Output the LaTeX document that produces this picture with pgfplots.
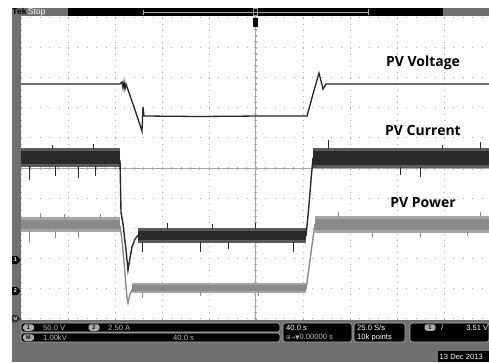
\documentclass[border=0pt]{standalone}
\usepackage{pgfplots}
\pgfplotsset{compat=1.18}
\usepackage{fontspec}
\setmainfont{Open Sans}
\newfontfamily\statfont{Liberation Sans}
\newfontfamily\symfont{DejaVu Sans}
\definecolor{scopegray}{HTML}{6F6F6F}
\definecolor{bandgray}{HTML}{8A8A8A}
\definecolor{bandgraylt}{HTML}{A6A6A6}
\definecolor{banddark}{HTML}{2A2A2A}
\definecolor{banddarklt}{HTML}{5A5A5A}
\definecolor{stattext}{HTML}{BDBDBD}
\definecolor{griddot}{HTML}{A8A8A8}
\begin{document}
\begin{tikzpicture}
\begin{scope}[x=1pt,y=-1pt]
\useasboundingbox (0,0) rectangle (489,362);
\fill[white] (0,0) rectangle (489,362);
% scope frame
\fill[scopegray] (12,8) rectangle (21,362);
\fill[scopegray] (12,320) rectangle (489,362);
% top bar
\fill[scopegray] (12,8) rectangle (68,16);
\fill[black] (68,8) rectangle (443,16);
\fill[scopegray] (443,8) rectangle (489,16);
\draw[gray!70, line width=0.5pt] (143,9.5) -- (143,14.5);
\draw[gray!70, line width=0.5pt] (368,9) -- (368,15);
\draw[gray!70, line width=0.5pt] (143,12) -- (368,12);
\draw[gray!80, line width=0.6pt] (253.5,8.5) rectangle (257,15.5);
\node[anchor=west, inner sep=0pt, font=\statfont\fontsize{8.5}{9}\selectfont\bfseries] at (12.3,12) {Tek\,\textcolor{white}{\mdseries Stop}};
% grid
\foreach \i in {0,...,10}
  \draw[griddot, line width=0.9pt, dash pattern=on 0.9pt off 5.12pt] ({21+47*\i},17.5) -- ({21+47*\i},320);
\foreach \j in {0,...,10}
  \draw[griddot, line width=0.9pt, dash pattern=on 0.9pt off 8.5pt] (21,{17.5+30.1*\j}) -- (489,{17.5+30.1*\j});
% centre lines with ticks
\draw[gray!70, line width=0.5pt] (21,168) -- (489,168);
\foreach \k in {0,...,50}
  \draw[gray!70, line width=0.5pt] ({21+9.4*\k},166.5) -- ({21+9.4*\k},169.5);
\draw[gray!70, line width=0.5pt] (255.5,16) -- (255.5,320);
\foreach \k in {0,...,50}
  \draw[gray!70, line width=0.5pt] (254,{17.5+6.02*\k}) -- (257,{17.5+6.02*\k});
% trigger marker
\fill[black] (253.2,18) rectangle (258,26.5);
% channel markers
\fill[black] (12,256) -- (17,256) -- (20.5,260) -- (17,264) -- (12,264) -- cycle;
\node[white, inner sep=0pt, font=\statfont\fontsize{5.5}{6}\selectfont\bfseries] at (15.5,260) {1};
\fill[black] (12,287) -- (17,287) -- (20.5,291) -- (17,295) -- (12,295) -- cycle;
\node[white, inner sep=0pt, font=\statfont\fontsize{5.5}{6}\selectfont\bfseries] at (15.5,291) {2};
\fill[black!80] (12,315) -- (17,315) -- (20.5,319) -- (17,322) -- (12,322) -- cycle;
\node[gray!40, inner sep=0pt, font=\statfont\fontsize{4.5}{5}\selectfont\bfseries] at (15.5,318.5) {M};
% status panels
\begin{scope}[line width=0.6pt]
\draw[gray!55, fill=black, rounded corners=2.5pt] (21,323) rectangle (280,332);
\draw[gray!55, fill=black, rounded corners=2.5pt] (21,333) rectangle (280,342);
\draw[gray!55, fill=black, rounded corners=2.5pt] (283,323) rectangle (352,342);
\draw[gray!55, fill=black, rounded corners=2.5pt] (354,323) rectangle (405,342);
\draw[gray!55, fill=black, rounded corners=2.5pt] (410,323) rectangle (489,342);
\end{scope}
\fill[black] (438,351) rectangle (489,362);
\tikzset{badge/.style={fill=gray!65, rounded corners=2.5pt, inner sep=0pt, minimum width=11pt, minimum height=6.5pt, font=\statfont\fontsize{5.5}{6}\selectfont\bfseries, text=black},
 stat/.style={anchor=west, inner sep=0pt, text=stattext, font=\statfont\fontsize{7.6}{8}\selectfont}}
\node[badge] at (28.5,327.5) {1};
\node[stat] at (43,327.5) {50.0 V};
\node[badge] at (94,327.5) {2};
\node[stat] at (108,327.5) {2.50 A};
\node[badge] at (28.5,337.5) {M};
\node[stat] at (43,337.5) {1.00kV};
\node[stat] at (173,337.5) {40.0 s};
\node[stat, text=white] at (286,327.5) {40.0 s};
\node[stat] at (286,337.5) {{\symfont\fontsize{5.5}{6}\selectfont ⊞→▼}0.00000 s};
\node[stat, text=white] at (357,327.5) {25.0 S/s};
\node[stat, text=white] at (357,337.5) {10k points};
\node[badge] at (430,327.5) {1};
\node[stat, text=white] at (441,327.5) {/};
\node[stat, text=white, anchor=east] at (488.5,327.5) {3.51 V};
\node[anchor=west, inner sep=0pt, text=white, font=\statfont\fontsize{7.6}{8}\selectfont] at (439.5,356.5) {13 Dec 2013};
\end{scope}
\begin{axis}[at={(21pt,-320pt)}, anchor=south west, scale only axis,
  width=468pt, height=304pt, xmin=21, xmax=489, ymin=16, ymax=320,
  y dir=reverse, hide axis, clip=true, unbounded coords=jump]
% ---- PV Power (grey band): outer envelope, dense core ----
\addplot[fill=bandgraylt, draw=none] coordinates {(21,217) (120,217) (120,232) (21,232)} -- cycle;
\addplot[fill=bandgray, draw=none] coordinates {(21,220) (120,220) (120,229) (21,229)} -- cycle;
\addplot[bandgray, line width=1.4pt] coordinates {(120,226) (122,240) (124,262) (127,298) (128,303) (130,294) (133,288)};
\addplot[fill=bandgraylt, draw=none] coordinates {(132,283) (306,283) (306,293) (132,293)} -- cycle;
\addplot[fill=bandgray, draw=none] coordinates {(132,285) (306,285) (306,291) (132,291)} -- cycle;
\addplot[bandgray, line width=1.4pt] coordinates {(306,289) (309,268) (312,245) (315,224)};
\addplot[fill=bandgraylt, draw=none] coordinates {(315,216) (489,216) (489,233) (315,233)} -- cycle;
\addplot[fill=bandgray, draw=none] coordinates {(315,219) (489,219) (489,230) (315,230)} -- cycle;
\addplot[bandgray, line width=0.7pt] coordinates {
 (29,231) (29,243) (29,nan) (55,231) (55,238) (55,nan) (78,231) (78,238) (78,nan)
 (40,218) (40,213) (40,nan) (100,218) (100,214) (100,nan) (64,218) (64,214) (64,nan)
 (142,292) (142,298) (142,nan) (200,292) (200,296) (200,nan) (258,292) (258,296) (258,nan)
 (338,217) (338,212) (338,nan) (420,232) (420,237) (420,nan) (467,232) (467,236) (467,nan) (480,217) (480,212) (480,nan) (372,232) (372,237)};
% ---- PV Current (dark band) ----
\addplot[fill=banddarklt, draw=none] coordinates {(21,148) (120,148) (120,167) (21,167)} -- cycle;
\addplot[fill=banddark, draw=none] coordinates {(21,151) (120,151) (120,164) (21,164)} -- cycle;
\addplot[banddark, line width=1.4pt] coordinates {(120,160) (121,212) (123,224) (126,250) (128,270) (130,258) (132,247) (135,239) (140,233)};
\addplot[fill=banddarklt, draw=none] coordinates {(138,228) (306,228) (306,243) (138,243)} -- cycle;
\addplot[fill=banddark, draw=none] coordinates {(138,231) (306,231) (306,240) (138,240)} -- cycle;
\addplot[banddark, line width=1.4pt] coordinates {(306,236) (309,205) (311,180) (313,158)};
\addplot[fill=banddarklt, draw=none] coordinates {(313,148) (489,148) (489,168) (313,168)} -- cycle;
\addplot[fill=banddark, draw=none] coordinates {(313,151) (489,151) (489,165) (313,165)} -- cycle;
\addplot[banddark, line width=0.7pt] coordinates {
 (29,166) (29,180) (29,nan) (55,166) (55,176) (55,nan) (78,166) (78,178) (78,nan) (95,166) (95,176) (95,nan)
 (52,149) (52,145) (52,nan) (93,149) (93,144) (93,nan)
 (142,242) (142,252) (142,nan) (200,242) (200,252) (200,nan) (293,242) (293,252) (293,nan) (228,242) (228,249) (228,nan)
 (167,229) (167,223) (167,nan) (255,229) (255,223) (255,nan) (212,229) (212,224) (212,nan)
 (328,149) (328,140) (328,nan) (400,167) (400,175) (400,nan) (420,167) (420,177) (420,nan)
 (442,149) (442,145) (442,nan) (480,149) (480,142)};
% ---- PV Voltage (thin line) ----
\addplot[black!85, line width=1.3pt] coordinates {(21,84) (120,84) (122,82) (123,88) (124,82) (125,89) (126,84) (134,107) (142,131) (143,107) (144,116) (200,116.5) (260,116) (307,116) (313,94) (319,73) (323,89) (326,84) (489,84)};
% labels
\node[font=\fontsize{14}{16}\selectfont\bfseries, inner sep=0pt] at (axis cs:423,63) {PV Voltage};
\node[font=\fontsize{14}{16}\selectfont\bfseries, inner sep=0pt] at (axis cs:423,130) {PV Current};
\node[font=\fontsize{14}{16}\selectfont\bfseries, inner sep=0pt] at (axis cs:423,203) {PV Power};
\end{axis}
\end{tikzpicture}
\end{document}
